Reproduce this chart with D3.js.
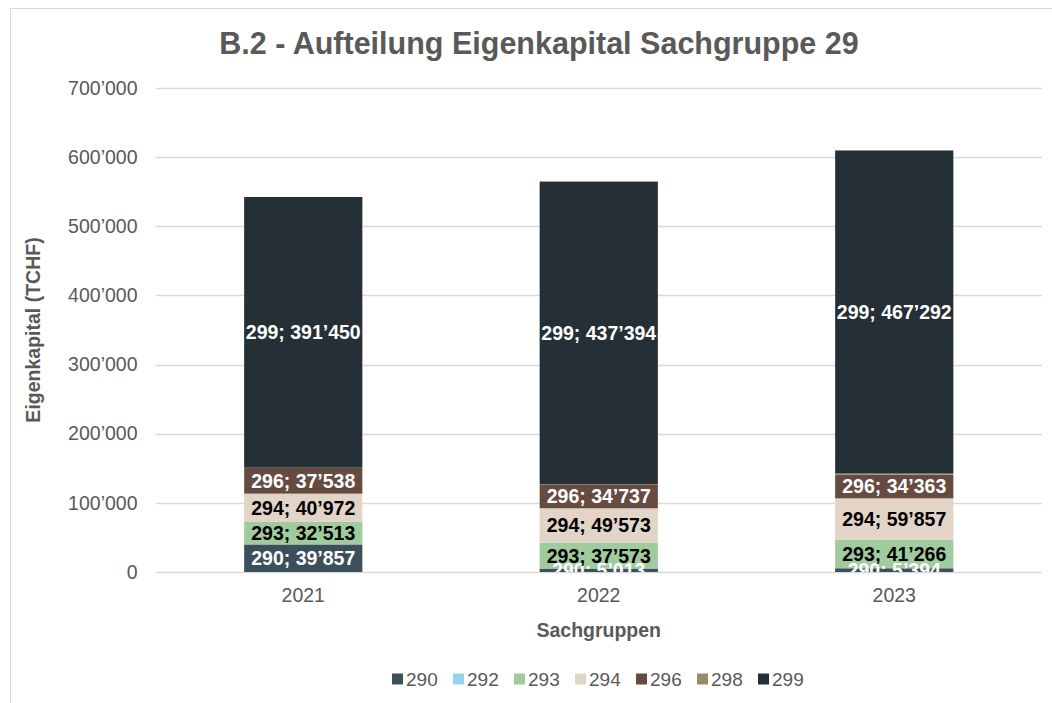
<!DOCTYPE html>
<html lang="de">
<head>
    <meta charset="UTF-8">
    <title>B.2 - Aufteilung Eigenkapital Sachgruppe 29</title>
    <script src="https://d3js.org/d3.v7.min.js"></script>
    <style>
        body {
            margin: 0;
            background: #fff;
            overflow: hidden;
            font-family: "Liberation Sans", Arial, sans-serif;
        }
    </style>
</head>
<body>
    <div id="chart"></div>
    <script>
        // data (TCHF)
        const years = ["2021", "2022", "2023"];
        const groups = ["290", "292", "293", "294", "296", "298", "299"];
        const s290 = [39857, 5013, 5394];
        const s292 = [0, 0, 0];
        const s293 = [32513, 37573, 41266];
        const s294 = [40972, 49573, 59857];
        const s296 = [37538, 34737, 34363];
        const s298 = [0, 400, 1500];
        const s299 = [391450, 437394, 467292];
        const yTicks = [0, 100000, 200000, 300000, 400000, 500000, 600000, 700000];

        const colors = {
            "290": "#3c505c",
            "292": "#93d5ee",
            "293": "#a0cb9f",
            "294": "#e2d4c7",
            "296": "#664b40",
            "298": "#9c8a6b",
            "299": "#252f36"
        };
        // label colour per group, null = no label
        const labelColor = {
            "290": "#fff", "292": null, "293": "#000", "294": "#000",
            "296": "#fff", "298": null, "299": "#fff"
        };

        const seriesValues = { "290": s290, "292": s292, "293": s293, "294": s294, "296": s296, "298": s298, "299": s299 };
        const table = years.map((y, i) => {
            const row = { year: y };
            groups.forEach(g => row[g] = seriesValues[g][i]);
            return row;
        });

        const W = 1052, H = 703;
        const plot = { left: 155.5, right: 1042, top: 88, bottom: 572 };
        const grey = "#595959";
        const fmt = d3.formatLocale({ decimal: ".", thousands: "\u2019", grouping: [3], currency: ["", ""] }).format(",");

        const svg = d3.select("#chart").append("svg")
            .attr("width", W)
            .attr("height", H)
            .style("font-family", "'Liberation Sans', Arial, sans-serif");

        // chart frame (cut off at right and bottom in the reference)
        svg.append("rect")
            .attr("x", 10.5).attr("y", 8.5)
            .attr("width", 1200).attr("height", 1000)
            .attr("fill", "none")
            .attr("stroke", "#d9d9d9");

        const x = d3.scaleBand()
            .domain(years)
            .range([plot.left, plot.right])
            .paddingInner(0.6)
            .paddingOuter(0.3);

        const y = d3.scaleLinear()
            .domain([0, 700000])
            .range([plot.bottom, plot.top]);

        // gridlines
        svg.append("g")
            .selectAll("line")
            .data(yTicks)
            .join("line")
            .attr("x1", plot.left).attr("x2", plot.right)
            .attr("y1", d => Math.round(y(d)) + 0.5)
            .attr("y2", d => Math.round(y(d)) + 0.5)
            .attr("stroke", "#d9d9d9")
            .attr("stroke-width", 1.3);

        // y axis labels
        const yAxis = svg.append("g")
            .attr("transform", `translate(${plot.left},0)`)
            .call(d3.axisLeft(y).tickValues(yTicks).tickFormat(fmt).tickSize(0).tickPadding(18));
        yAxis.select(".domain").remove();
        yAxis.selectAll("text")
            .attr("fill", grey)
            .style("font-size", "19.5px")
            .style("font-family", "'Liberation Sans', Arial, sans-serif");

        // x axis labels
        const xAxis = svg.append("g")
            .attr("transform", `translate(0,${plot.bottom})`)
            .call(d3.axisBottom(x).tickSize(0).tickPadding(16));
        xAxis.select(".domain").remove();
        xAxis.selectAll("text")
            .attr("fill", grey)
            .style("font-size", "19.5px")
            .style("font-family", "'Liberation Sans', Arial, sans-serif");

        const stacked = d3.stack().keys(groups)(table);

        // bars
        svg.append("g")
            .selectAll("g")
            .data(stacked)
            .join("g")
            .attr("fill", d => colors[d.key])
            .selectAll("rect")
            .data(d => d)
            .join("rect")
            .attr("x", d => x(d.data.year))
            .attr("width", x.bandwidth())
            .attr("y", d => y(d[1]))
            .attr("height", d => y(d[0]) - y(d[1]));

        // data labels, clipped to the plot area like the original
        svg.append("clipPath").attr("id", "plotclip")
            .append("rect")
            .attr("x", plot.left).attr("y", plot.top - 30)
            .attr("width", plot.right - plot.left)
            .attr("height", plot.bottom - plot.top + 30);

        svg.append("g")
            .attr("clip-path", "url(#plotclip)")
            .selectAll("g")
            .data(stacked.filter(s => labelColor[s.key]))
            .join("g")
            .attr("fill", d => labelColor[d.key])
            .selectAll("text")
            .data(d => d.map(p => ({ key: d.key, p: p })))
            .join("text")
            .attr("x", d => x(d.p.data.year) + x.bandwidth() / 2)
            .attr("y", d => (y(d.p[0]) + y(d.p[1])) / 2)
            .attr("dy", "0.36em")
            .attr("text-anchor", "middle")
            .style("font-size", "19.5px")
            .style("font-weight", "bold")
            .text(d => d.key + "; " + fmt(d.p.data[d.key]));

        // title
        svg.append("text")
            .attr("x", 539)
            .attr("y", 54)
            .attr("text-anchor", "middle")
            .attr("fill", grey)
            .style("font-size", "30.5px")
            .style("font-weight", "bold")
            .text("B.2 - Aufteilung Eigenkapital Sachgruppe 29");

        // axis titles
        svg.append("text")
            .attr("transform", `translate(40,${(plot.top + plot.bottom) / 2}) rotate(-90)`)
            .attr("text-anchor", "middle")
            .attr("fill", grey)
            .style("font-size", "19.5px")
            .style("font-weight", "bold")
            .text("Eigenkapital (TCHF)");

        svg.append("text")
            .attr("x", (plot.left + plot.right) / 2)
            .attr("y", 637)
            .attr("text-anchor", "middle")
            .attr("fill", grey)
            .style("font-size", "19.5px")
            .style("font-weight", "bold")
            .text("Sachgruppen");

        // legend
        const legend = svg.append("g")
            .attr("transform", "translate(392,679)");
        const item = legend.selectAll("g")
            .data(groups)
            .join("g")
            .attr("transform", (d, i) => `translate(${i * 61},0)`);
        item.append("rect")
            .attr("x", 0).attr("y", -5.5)
            .attr("width", 11).attr("height", 11)
            .attr("fill", d => colors[d]);
        item.append("text")
            .attr("x", 14)
            .attr("dy", "0.36em")
            .attr("fill", grey)
            .style("font-size", "19px")
            .text(d => d);
    </script>
</body>
</html>
